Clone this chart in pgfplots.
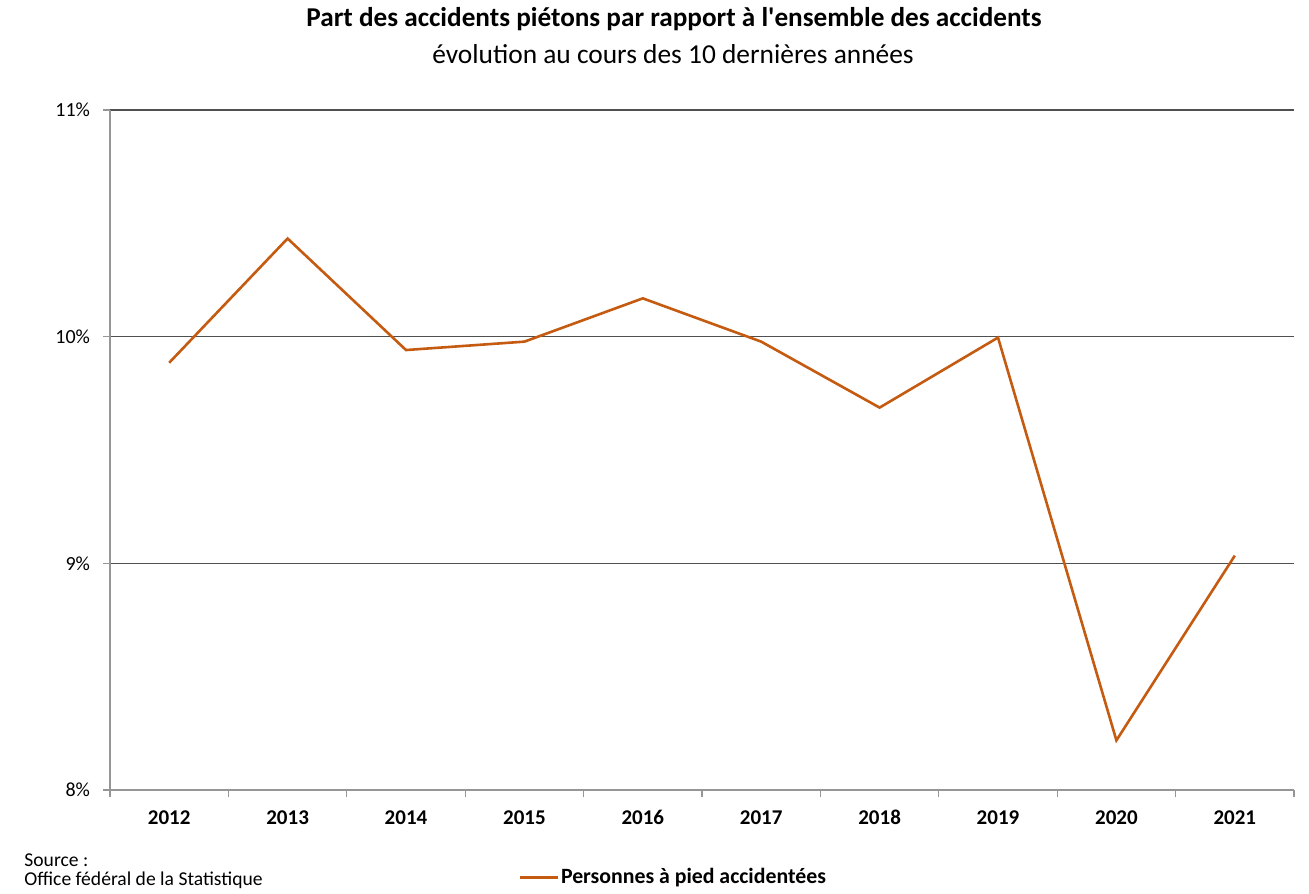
\documentclass[border=0pt]{standalone}
\usepackage{pgfplots}
\pgfplotsset{compat=1.18}
\usepackage{fontspec}
\setmainfont{Carlito}
\newfontfamily\plainfont{Carlito}
\definecolor{lineor}{RGB}{197,90,17}
\definecolor{gridc}{RGB}{80,80,80}
\definecolor{axc}{RGB}{150,150,150}
\begin{document}
\begin{tikzpicture}[x=1pt,y=1pt]
\useasboundingbox (0,0) rectangle (654.5,446.5);
\node[font=\fontsize{13.6}{15}\selectfont\bfseries] at (337,437) {Part des accidents piétons par rapport à l{\plainfont\bfseries '}ensemble des accidents};
\node[font=\fontsize{13.7}{15}\selectfont] at (336.5,419.5) {évolution au cours des 10 dernières années};
\node[anchor=north west, align=left, inner sep=0pt, font=\fontsize{9.8}{9.5}\selectfont] at (12,20) {Source :\\Office fédéral de la Statistique};
\begin{axis}[
  at={(55pt,51.5pt)}, anchor=south west,
  scale only axis, width=592pt, height=340pt,
  xmin=-0.5, xmax=9.5, ymin=8, ymax=11,
  axis x line*=bottom, axis y line*=left,
  axis line style={draw=axc, line width=0.8pt},
  xtick={-0.5,0.5,...,9.5}, xticklabels={},
  extra x ticks={0,1,2,3,4,5,6,7,8,9},
  extra x tick labels={2012,2013,2014,2015,2016,2017,2018,2019,2020,2021},
  extra x tick style={major tick length=0pt, tick style={draw=none}},
  ytick={8,9,10,11}, yticklabels={8\%,9\%,10\%,11\%},
  tick align=outside, major tick length=3.5pt,
  tick style={draw=axc, line width=0.6pt},
  ymajorgrids, grid style={draw=gridc, line width=0.7pt},
  xticklabel style={font=\fontsize{10.5}{12}\selectfont\bfseries, yshift=-6pt, text height=7.5pt, text depth=0pt},
  yticklabel style={font=\fontsize{10}{12}\selectfont, xshift=-3pt},
  legend style={at={(0.3446,-0.1285)}, anchor=west, draw=none, fill=none, inner sep=0pt,
    font=\fontsize{10.9}{12}\selectfont\bfseries,
    /tikz/every even column/.append style={column sep=0pt}},
  legend cell align=left,
  legend image code/.code={\draw[#1] (0pt,0pt) -- (19pt,0pt);},
]
\addplot[lineor, line width=1.3pt] coordinates {
(0,9.885) (1,10.433) (2,9.941) (3,9.978) (4,10.169) (5,9.978) (6,9.687) (7,9.996) (8,8.219) (9,9.034)};
\addlegendentry[inner xsep=1pt]{Personnes à pied accidentées}
\end{axis}
\end{tikzpicture}
\end{document}
